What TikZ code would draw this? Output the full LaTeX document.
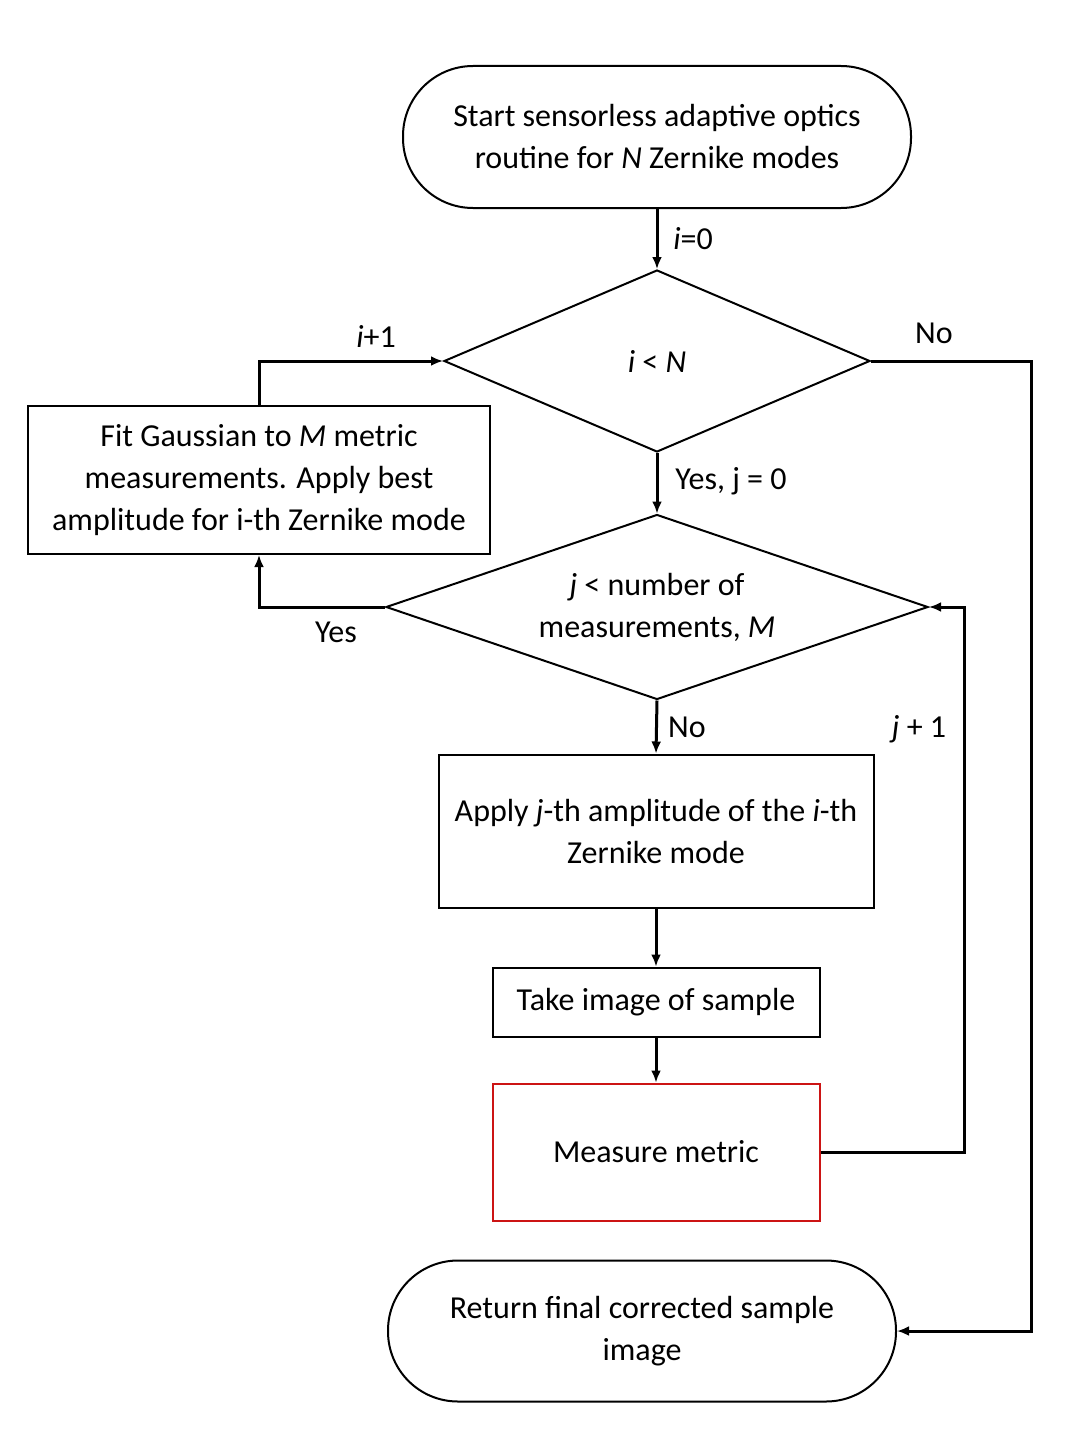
\documentclass[tikz,border=0pt]{standalone}
\usepackage{fontspec}
\setmainfont{Carlito}
\usetikzlibrary{shapes.geometric,arrows.meta}
\definecolor{measred}{RGB}{204,20,20}
\tikzset{
  base/.style={draw, line width=1pt, align=center, inner sep=0pt,
    font=\fontsize{16}{21}\selectfont},
  term/.style={base, rounded corners=35pt, minimum width=254pt, minimum height=71pt},
  decide/.style={base, diamond},
  stepbox/.style={base, rectangle},
  flow/.style={line width=1.5pt, -{Latex[length=6pt,width=5pt]}},
  lbl/.style={inner sep=0pt, font=\fontsize{16}{21}\selectfont},
}
\begin{document}
\begin{tikzpicture}[x=0.5pt,y=-0.5pt]
    \useasboundingbox (0,0) rectangle (1087,1445);
    % shapes
    \node[term] (start) at (657,137) {Start sensorless adaptive optics\\routine for \textit{N} Zernike modes};
    \node[decide, shape aspect=2.34, minimum width=213pt, minimum height=91pt] (d1) at (657,361) {\textit{i} < \textit{N}};
    \node[stepbox, minimum width=231pt, minimum height=74pt] (fit) at (259,480)
        {Fit Gaussian to \textit{M} metric\\measurements. Apply best\\amplitude for i-th Zernike mode};
    \node[decide, shape aspect=2.93, minimum width=271pt, minimum height=92.5pt] (d2) at (657,607)
        {\textit{j} < number of\\measurements, \textit{M}};
    \node[stepbox, minimum width=217.5pt, minimum height=76.5pt] (apply) at (656,831)
        {Apply \textit{j}-th amplitude of the \textit{i}-th\\Zernike mode};
    \node[stepbox, minimum width=163.5pt, minimum height=34.5pt] (take) at (656,1002) {Take image of sample};
    \node[stepbox, draw=measred, minimum width=163.5pt, minimum height=68.5pt] (meas) at (656,1152) {Measure metric};
    \node[term, minimum height=70.5pt] (stop) at (642,1331) {Return final corrected sample\\image};
    % connectors
    \draw[flow] (start.south) -- (d1.north);
    \draw[flow] (d1.east) -- ++(160,0) |- (stop.east);
    \draw[flow] (d1.south) -- (d2.north);
    \draw[flow] (d2.west) -| (fit.south);
    \draw[flow] (fit.north) |- (d1.west);
    \draw[flow] (d2.south) -- (apply.north);
    \draw[flow] (apply) -- (take);
    \draw[flow] (take) -- (meas);
    \draw[flow] (meas.east) -- ++(144,0) |- (d2.east);
    % labels
    \node[lbl] (lzero) at (693,239) {\textit{i}=0};
    \node[lbl] (lno1) at (934,333) {No};
    \node[lbl] (lyesj) at (731,481) {Yes, j = 0};
    \node[lbl] (lyes) at (336,632) {Yes};
    \node[lbl] (linc) at (376,336) {\textit{i}+1};
    \node[lbl] (lno2) at (687,727) {No};
    \node[lbl] (ljinc) at (919,729) {\textit{j} + 1};
\end{tikzpicture}
\end{document}
